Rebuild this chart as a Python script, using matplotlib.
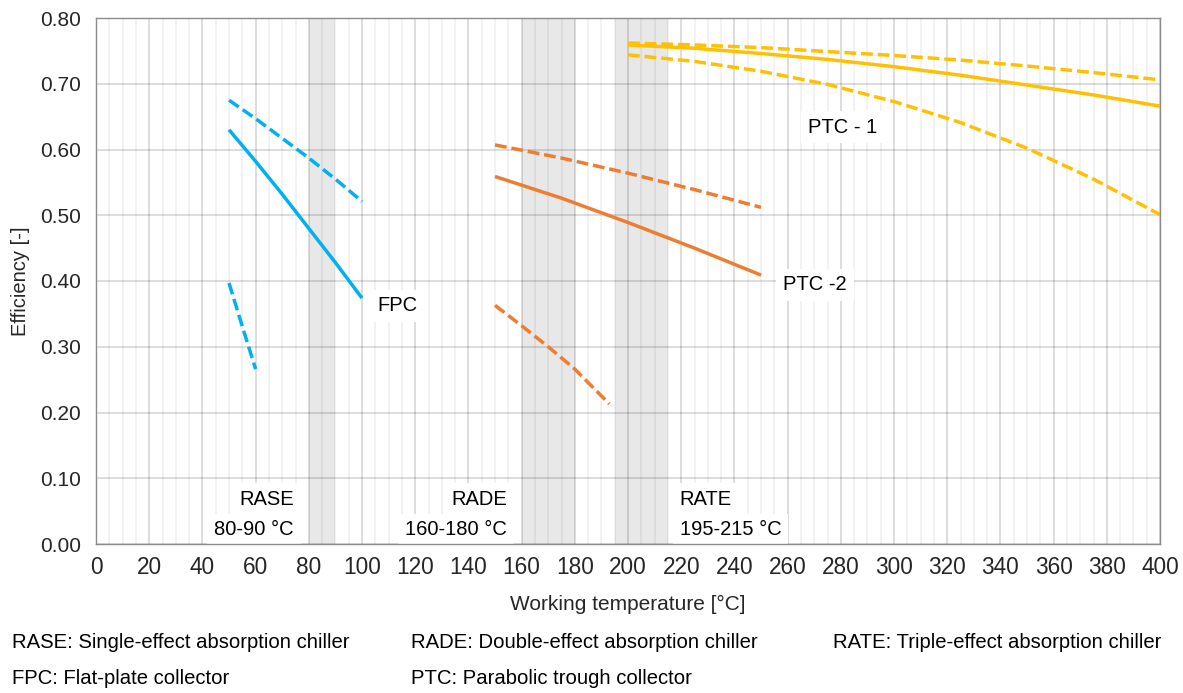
import matplotlib
matplotlib.use("Agg")
import matplotlib.pyplot as plt
from matplotlib.ticker import MultipleLocator
from matplotlib import font_manager

plt.rcParams['font.family'] = ['Liberation Sans', 'DejaVu Sans']

# ---------------- data ----------------
fpc_x = [50, 60, 70, 80, 90, 100]
fpc_solid = [0.630, 0.582, 0.532, 0.480, 0.428, 0.374]
fpc_upper = [0.675, 0.647, 0.617, 0.587, 0.555, 0.521]
fpc_lower_x = [50, 55, 60]
fpc_lower = [0.397, 0.331, 0.266]

ptc2_x = [150, 175, 200, 225, 250]
ptc2_solid = [0.559, 0.526, 0.489, 0.450, 0.409]
ptc2_upper = [0.607, 0.587, 0.564, 0.539, 0.512]
ptc2_lower_x = [150, 160, 170, 180, 193]
ptc2_lower = [0.363, 0.332, 0.300, 0.266, 0.213]

ptc1_x = [200, 225, 250, 275, 300, 325, 350, 375, 400]
ptc1_solid = [0.759, 0.754, 0.746, 0.737, 0.726, 0.713, 0.698, 0.683, 0.666]
ptc1_upper = [0.762, 0.759, 0.755, 0.749, 0.743, 0.736, 0.727, 0.717, 0.706]
ptc1_lower = [0.744, 0.734, 0.719, 0.699, 0.673, 0.641, 0.602, 0.555, 0.501]

bands = [(80, 90), (160, 180), (195, 215)]
chiller_names = ['RASE', 'RADE', 'RATE']
chiller_ranges = ['80-90 °C', '160-180 °C', '195-215 °C']

x_ticks = list(range(0, 401, 20))
y_ticks = [0.0, 0.1, 0.2, 0.3, 0.4, 0.5, 0.6, 0.7, 0.8]

footer_row1 = ['RASE: Single-effect absorption chiller',
               'RADE: Double-effect absorption chiller',
               'RATE: Triple-effect absorption chiller']
footer_row2 = ['FPC: Flat-plate collector', 'PTC: Parabolic trough collector']

# ---------------- styling ----------------
BLUE = '#00B0F0'
ORANGE = '#ED7D31'
YELLOW = '#FFC000'
TXT = '#262626'
W, H = 1183, 693

fig = plt.figure(figsize=(W / 100, H / 100), dpi=100)
ax = fig.add_axes([96 / W, 1 - 544 / H, (1160 - 96) / W, (544 - 18) / H])
ax.set_xlim(0, 400)
ax.set_ylim(0, 0.8)

ax.set_axisbelow(True)
ax.xaxis.set_major_locator(MultipleLocator(20))
ax.xaxis.set_minor_locator(MultipleLocator(5))
ax.yaxis.set_major_locator(MultipleLocator(0.1))
ax.grid(which='major', axis='both', color='black', alpha=0.15, lw=1.3)
ax.grid(which='minor', axis='x', color='black', alpha=0.065, lw=1.1)

for (a, b) in bands:
    ax.axvspan(a, b, color='#E8E8E8', lw=0, zorder=0.1)

ax.set_xticks(x_ticks)
ax.set_xticklabels([str(v) for v in x_ticks], fontsize=16.3, color=TXT)
ax.set_yticks(y_ticks)
ax.set_yticklabels(['%.2f' % v for v in y_ticks], fontsize=15, color=TXT)
ax.tick_params(axis='both', which='both', length=0)
ax.tick_params(axis='x', pad=9)
ax.tick_params(axis='y', pad=11)

for sp in ax.spines.values():
    sp.set_color('#8C8C8C')
    sp.set_linewidth(1.0)

lw_s = 2.5
lw_d = 2.5
dash = (3.4, 1.4)

def solid(x, y, c):
    ax.plot(x, y, color=c, lw=lw_s, solid_capstyle='butt', solid_joinstyle='round', zorder=2)

def dashed(x, y, c):
    ax.plot(x, y, color=c, lw=lw_d, dashes=dash, dash_capstyle='butt', zorder=2)

solid(fpc_x, fpc_solid, BLUE)
dashed(fpc_x, fpc_upper, BLUE)
dashed(fpc_lower_x, fpc_lower, BLUE)

solid(ptc2_x, ptc2_solid, ORANGE)
dashed(ptc2_x, ptc2_upper, ORANGE)
dashed(ptc2_lower_x, ptc2_lower, ORANGE)

dashed(ptc1_x, ptc1_lower, YELLOW)
dashed(ptc1_x, ptc1_upper, YELLOW)
solid(ptc1_x, ptc1_solid, YELLOW)

box = dict(facecolor='white', edgecolor='none', pad=5)
tkw = dict(fontsize=14.5, color='black', bbox=box, zorder=1.5)

ax.text(113.5, 0.362, 'FPC', ha='center', va='center', **tkw)
ax.text(270.3, 0.394, 'PTC -2', ha='center', va='center', **tkw)
ax.text(280.5, 0.634, 'PTC - 1', ha='center', va='center', **tkw)

# chiller labels
label_x = [74.4, 154.5, 219.5]
label_ha = ['right', 'right', 'left']
for name, rng, lx, ha in zip(chiller_names, chiller_ranges, label_x, label_ha):
    ax.text(lx, 0.068, name, ha=ha, va='center', **tkw)
    ax.text(lx, 0.0215, rng, ha=ha, va='center', **tkw)

fig.text(21 / W, 1 - 281 / H, 'Efficiency [-]', rotation=90, ha='center', va='center',
         fontsize=14.5, color=TXT)
fig.text(628 / W, 1 - 604 / H, 'Working temperature [°C]', ha='center', va='center',
         fontsize=15, color=TXT)

# footer (narrow font if available)
try:
    font_manager.findfont('Liberation Sans Narrow', fallback_to_default=False)
    ffam = ['Liberation Sans Narrow', 'DejaVu Sans']
    fsize = 17.3
except Exception:
    ffam = ['Liberation Sans', 'DejaVu Sans']
    fsize = 14.6

row1_x = [12, 411, 833]
for s, x in zip(footer_row1, row1_x):
    fig.text(x / W, 1 - 642 / H, s, ha='left', va='center', fontsize=fsize,
             family=ffam, color='black')
row2_x = [12, 411]
for s, x in zip(footer_row2, row2_x):
    fig.text(x / W, 1 - 678 / H, s, ha='left', va='center', fontsize=fsize,
             family=ffam, color='black')

fig.savefig('out.png', dpi=100, facecolor='white')
